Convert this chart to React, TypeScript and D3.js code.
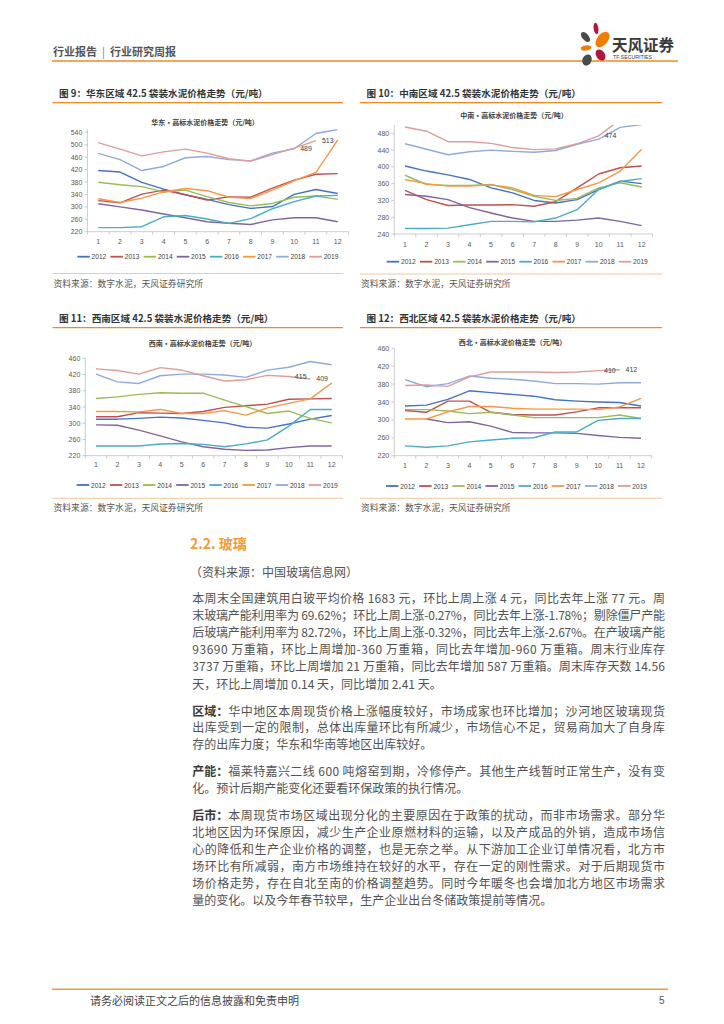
import React from 'react';
import * as d3 from 'd3';

const MONTHS = ['1', '2', '3', '4', '5', '6', '7', '8', '9', '10', '11', '12'];
const YEARS = ['2012', '2013', '2014', '2015', '2016', '2017', '2018', '2019'];

const EAST_TICKS = [220, 260, 300, 340, 380, 420, 460, 500, 540];
const CENTRAL_TICKS = [240, 280, 320, 360, 400, 440, 480];
const SOUTHWEST_TICKS = [220, 260, 300, 340, 380, 420, 460];
const NORTHWEST_TICKS = [220, 260, 300, 340, 380, 420, 460];

const EAST_PRICES = [
  [417, 412, 379, 357, 339, 324, 307, 295, 301, 340, 356, 343],
  [320, 313, 341, 354, 339, 322, 332, 331, 360, 386, 405, 407],
  [379, 371, 365, 348, 354, 333, 314, 303, 311, 331, 335, 324],
  [310, 300, 290, 277, 265, 252, 247, 243, 258, 265, 265, 252],
  [233, 233, 236, 268, 272, 261, 247, 262, 294, 317, 335, 337],
  [326, 314, 328, 348, 359, 352, 331, 327, 354, 384, 411, 515],
  [472, 452, 417, 430, 458, 462, 452, 448, 473, 487, 536, 549],
  [507, 486, 464, 477, 486, 473, 455, 447, 468, 489, 513, null],
];

const CENTRAL_PRICES = [
  [402, 390, 381, 370, 350, 338, 320, 314, 322, 346, 366, 360],
  [344, 322, 308, 309, 309, 310, 306, 317, 350, 383, 398, 402],
  [380, 358, 356, 356, 358, 346, 330, 320, 325, 350, 362, 352],
  [334, 330, 322, 303, 290, 278, 270, 270, 273, 278, 270, 260],
  [253, 253, 254, 262, 270, 270, 269, 278, 298, 346, 365, 372],
  [370, 360, 354, 354, 357, 350, 332, 329, 346, 362, 390, 442],
  [455, 442, 429, 436, 440, 437, 435, 439, 454, 466, 494, 501],
  [495, 485, 460, 460, 456, 446, 441, 443, 455, 474, 513, null],
];

const SOUTHWEST_PRICES = [
  [310, 310, 312, 315, 313, 307, 301, 290, 288, 298, 310, 319],
  [316, 316, 326, 325, 324, 329, 339, 343, 347, 359, 360, 361],
  [361, 365, 371, 375, 374, 374, 357, 341, 324, 330, 312, 301],
  [296, 295, 283, 269, 254, 242, 236, 233, 234, 240, 244, 244],
  [244, 244, 244, 249, 250, 248, 242, 249, 259, 293, 334, 334],
  [329, 329, 328, 334, 324, 324, 331, 320, 338, 349, 360, 399],
  [421, 402, 398, 417, 421, 421, 419, 413, 431, 438, 452, 444],
  [434, 430, 421, 437, 431, 417, 404, 407, 418, 415, 409, null],
];

const NORTHWEST_PRICES = [
  [331, 333, 346, 365, 361, 357, 353, 345, 342, 340, 339, 331],
  [321, 317, 342, 342, 317, 312, 311, 311, 318, 327, 327, 327],
  [323, 323, 320, 314, 317, 311, 305, 305, 305, 305, 311, 303],
  [null, 302, 294, 296, 286, 272, 271, 271, 270, 265, 261, 259],
  [242, 239, 242, 251, 255, 259, 260, 273, 273, 299, 303, 303],
  [302, 302, 318, 330, 330, 326, 324, 324, 324, 323, 329, 348],
  [390, 374, 381, 398, 393, 391, 387, 381, 381, 380, 383, 383],
  [377, 378, 375, 396, 407, 407, 407, 406, 407, 410, 412, null],
];

const EAST_LABEL_MONTHS = ['10', '11'];
const CENTRAL_LABEL_MONTHS = ['10'];
const SOUTHWEST_LABEL_MONTHS = ['10', '11'];
const NORTHWEST_LABEL_MONTHS = ['10', '11'];

const SERIES_COLORS = ['#4472C4', '#C0504D', '#9BBB59', '#8064A2', '#4BACC6', '#F79646', '#8FAADC', '#DE9C9A'];

const P1_LINES = [
  '本周末全国建筑用白玻平均价格 1683 元，环比上周上涨 4 元，同比去年上涨 77 元。周',
  '末玻璃产能利用率为 69.62%；环比上周上涨-0.27%，同比去年上涨-1.78%；剔除僵尸产能',
  '后玻璃产能利用率为 82.72%，环比上周上涨-0.32%，同比去年上涨-2.67%。在产玻璃产能',
  '93690 万重箱，环比上周增加-360 万重箱，同比去年增加-960 万重箱。周末行业库存',
  '3737 万重箱，环比上周增加 21 万重箱，同比去年增加 587 万重箱。周末库存天数 14.56',
  '天，环比上周增加 0.14 天，同比增加 2.41 天。',
];
const P2_LINES = [
  '区域：|华中地区本周现货价格上涨幅度较好，市场成家也环比增加；沙河地区玻璃现货',
  '出库受到一定的限制，总体出库量环比有所减少，市场信心不足，贸易商加大了自身库',
  '存的出库力度；华东和华南等地区出库较好。',
];
const P3_LINES = [
  '产能：|福莱特嘉兴二线 600 吨熔窑到期，冷修停产。其他生产线暂时正常生产，没有变',
  '化。预计后期产能变化还要看环保政策的执行情况。',
];
const P4_LINES = [
  '后市：|本周现货市场区域出现分化的主要原因在于政策的扰动，而非市场需求。部分华',
  '北地区因为环保原因，减少生产企业原燃材料的运输，以及产成品的外销，造成市场信',
  '心的降低和生产企业价格的调整，也是无奈之举。从下游加工企业订单情况看，北方市',
  '场环比有所减弱，南方市场维持在较好的水平，存在一定的刚性需求。对于后期现货市',
  '场价格走势，存在自北至南的价格调整趋势。同时今年暖冬也会增加北方地区市场需求',
  '量的变化。以及今年春节较早，生产企业出台冬储政策提前等情况。',
];

const CJK = '"Noto Sans CJK SC", "Noto Sans", sans-serif';
const LATIN = '"Liberation Sans", Arial, "Noto Sans CJK SC", sans-serif';
const SOURCE_TEXT = '资料来源：数字水泥，天风证券研究所';

const CHARTS = [
  {
    id: 'c1', figTitle: '图 9：华东区域 42.5 袋装水泥价格走势（元/吨）', chartTitle: '华东·高标水泥价格走势（元/吨）',
    series: EAST_PRICES, ticks: EAST_TICKS, max: 550, labelMonths: EAST_LABEL_MONTHS,
    fx: 52.5, fw: 290.5, titleY: 92.7, ruleY: 102.7, itx: 205, ity: 121.7,
    yb: 231.7, yt: 132.3, x1: 98.3, x12: 337.7, xly: 241, lgx: 77.3, lgy: 256.7, sry: 273.5, sy: 283.5,
  },
  {
    id: 'c2', figTitle: '图 10：中南区域 42.5 袋装水泥价格走势（元/吨）', chartTitle: '中南·高标水泥价格走势（元/吨）',
    series: CENTRAL_PRICES, ticks: CENTRAL_TICKS, max: 500, labelMonths: CENTRAL_LABEL_MONTHS,
    fx: 360, fw: 302, titleY: 92.7, ruleY: 102.7, itx: 514, ity: 115.3,
    yb: 234, yt: 133.3, x1: 405, x12: 641.7, xly: 244, lgx: 386.7, lgy: 261.7, sry: 274, sy: 283.5,
  },
  {
    id: 'c3', figTitle: '图 11：西南区域 42.5 袋装水泥价格走势（元/吨）', chartTitle: '西南·高标水泥价格走势（元/吨）',
    series: SOUTHWEST_PRICES, ticks: SOUTHWEST_TICKS, max: 460, labelMonths: SOUTHWEST_LABEL_MONTHS,
    fx: 52.5, fw: 290.5, titleY: 317.7, ruleY: 327.7, itx: 202.5, ity: 343.3,
    yb: 455.7, yt: 358.3, x1: 96, x12: 331.7, xly: 464.3, lgx: 76.7, lgy: 485, sry: 498.3, sy: 507.5,
  },
  {
    id: 'c4', figTitle: '图 12：西北区域 42.5 袋装水泥价格走势（元/吨）', chartTitle: '西北·高标水泥价格走势（元/吨）',
    series: NORTHWEST_PRICES, ticks: NORTHWEST_TICKS, max: 460, labelMonths: NORTHWEST_LABEL_MONTHS,
    fx: 360, fw: 302, titleY: 317.7, ruleY: 327.7, itx: 512.5, ity: 341.7,
    yb: 455.7, yt: 348.3, x1: 405, x12: 641, xly: 465.7, lgx: 386, lgy: 486, sry: 498.3, sy: 507.5,
  },
];

function LineChart({ c }: { c: any }) {
  const t0 = c.ticks[0];
  const tN = c.ticks[c.ticks.length - 1];
  const y = d3.scaleLinear().domain([t0, tN]).range([c.yb, c.yt]);
  const x = d3.scalePoint<string>().domain(MONTHS).range([c.x1, c.x12]);
  const step = x.step();
  const axX = c.x1 - step / 2;
  const axEnd = c.x12 + step / 2;
  const plotTop = y(c.max);
  const line = d3
    .line<number | null>()
    .defined((d) => d != null)
    .x((_, i) => x(MONTHS[i]) as number)
    .y((d) => y(d as number));
  const last = c.series[c.series.length - 1];
  return (
    <g>
      <defs>
        <clipPath id={`clip-${c.id}`}>
          <rect x={axX} y={plotTop} width={axEnd - axX + 2} height={c.yb - plotTop} />
        </clipPath>
      </defs>
      <text x={c.fx + 6.5} y={c.titleY} fontFamily={CJK} fontSize={9.6} fontWeight="bold" fill="#333" dominantBaseline="central">
        {c.figTitle}
      </text>
      <line x1={c.fx} x2={c.fx + c.fw} y1={c.ruleY} y2={c.ruleY} stroke="#F08A24" strokeWidth={1.3} />
      <text x={c.itx} y={c.ity} fontFamily={CJK} fontSize={7} fontWeight="bold" fill="#404040" textAnchor="middle" dominantBaseline="central">
        {c.chartTitle}
      </text>
      <line x1={axX} x2={axX} y1={plotTop} y2={c.yb} stroke="#BFBFBF" strokeWidth={0.8} />
      {c.ticks.map((t: number) => (
        <g key={t}>
          <line x1={axX - 3} x2={axX} y1={y(t)} y2={y(t)} stroke="#BFBFBF" strokeWidth={0.8} />
          <text x={axX - 5} y={y(t)} fontFamily={LATIN} fontSize={7} fill="#595959" textAnchor="end" dominantBaseline="central">
            {t}
          </text>
        </g>
      ))}
      <line x1={axX} x2={axEnd} y1={c.yb} y2={c.yb} stroke="#BFBFBF" strokeWidth={0.8} />
      {d3.range(MONTHS.length + 1).map((i) => (
        <line key={i} x1={axX + i * step} x2={axX + i * step} y1={c.yb} y2={c.yb + 3} stroke="#BFBFBF" strokeWidth={0.8} />
      ))}
      {MONTHS.map((m) => (
        <text key={m} x={x(m)} y={c.xly} fontFamily={LATIN} fontSize={7} fill="#595959" textAnchor="middle" dominantBaseline="central">
          {m}
        </text>
      ))}
      <g clipPath={`url(#clip-${c.id})`}>
        {c.series.map((s: (number | null)[], i: number) => (
          <path key={i} d={line(s) || ''} fill="none" stroke={SERIES_COLORS[i]} strokeWidth={1.4} strokeLinejoin="round" />
        ))}
      </g>
      {c.labelMonths.map((m: string) => {
        const v = last[MONTHS.indexOf(m)];
        return (
          <text key={m} x={(x(m) as number) + 6} y={y(v)} fontFamily={LATIN} fontSize={7} fill="#404040" dominantBaseline="central">
            {v}
          </text>
        );
      })}
      {YEARS.map((yr, i) => {
        const lx = c.lgx + i * 33.15;
        return (
          <g key={yr}>
            <line x1={lx} x2={lx + 12.5} y1={c.lgy} y2={c.lgy} stroke={SERIES_COLORS[i]} strokeWidth={1.8} />
            <text x={lx + 14.3} y={c.lgy} fontFamily={LATIN} fontSize={6.6} fill="#404040" dominantBaseline="central">
              {yr}
            </text>
          </g>
        );
      })}
      <line x1={c.fx} x2={c.fx + c.fw} y1={c.sry} y2={c.sry} stroke="#F6C08E" strokeWidth={0.9} />
      <text x={c.fx + 1} y={c.sy} fontFamily={CJK} fontSize={8.8} fill="#555" dominantBaseline="central">
        {SOURCE_TEXT}
      </text>
    </g>
  );
}

const TEXT_X = 192.3;
const TEXT_R = 665;
const FS = 12;

function Paragraph({ lines, y0, dy }: { lines: string[]; y0: number; dy: number }) {
  return (
    <g>
      {lines.map((ln, i) => {
        const yy = y0 + i * dy;
        const justify = i < lines.length - 1;
        let label = '';
        let body = ln;
        if (ln.includes('|')) {
          [label, body] = ln.split('|');
        }
        const bx = label ? TEXT_X + label.length * FS : TEXT_X;
        return (
          <g key={i}>
            {label && (
              <text x={TEXT_X} y={yy} fontFamily={CJK} fontSize={FS} fontWeight="bold" fill="#3a3a3a" dominantBaseline="central">
                {label}
              </text>
            )}
            <text
              x={bx}
              y={yy}
              fontFamily={CJK}
              fontSize={FS}
              fill="#525252"
              dominantBaseline="central"
              {...(justify ? { textLength: TEXT_R - bx, lengthAdjust: 'spacing' } : {})}
            >
              {body}
            </text>
          </g>
        );
      })}
    </g>
  );
}

function Logo() {
  return (
    <g>
      <ellipse cx={596} cy={28.5} rx={2.4} ry={5.8} fill="#B1173B" transform="rotate(-8 596 28.5)" />
      <ellipse cx={585.5} cy={37} rx={3.3} ry={6} fill="#4A4A4A" transform="rotate(-40 585.5 37)" />
      <ellipse cx={602.5} cy={39.5} rx={5.4} ry={9} fill="#EE7D00" transform="rotate(38 602.5 39.5)" />
      <ellipse cx={586} cy={48} rx={5.2} ry={2.5} fill="#EE7D00" transform="rotate(-8 586 48)" />
      <ellipse cx={600.5} cy={55} rx={4.3} ry={6} fill="#B1173B" transform="rotate(-35 600.5 55)" />
      <ellipse cx={587} cy={60} rx={4.5} ry={5.8} fill="#4A4A4A" transform="rotate(25 587 60)" />
      <text x={612} y={43.5} fontFamily={CJK} fontSize={15.5} fontWeight="bold" fill="#3a3a3a" dominantBaseline="central">
        天风证券
      </text>
      <text x={613} y={56.5} fontFamily={LATIN} fontSize={5.2} fill="#3a3a3a" dominantBaseline="central">
        TF SECURITIES
      </text>
    </g>
  );
}

export default function App() {
  return (
    <div style={{ position: 'absolute', left: 0, top: 0, width: 724, height: 1024, background: '#fff' }}>
      <svg width={724} height={1024} viewBox="0 0 724 1024" style={{ display: 'block' }}>
        <rect width={724} height={1024} fill="#fff" />
        <text x={53} y={51} fontFamily={CJK} fontSize={11} fill="#555" dominantBaseline="central">
          <tspan fontWeight="bold">行业报告</tspan>
          <tspan dx={5} fill="#777">|</tspan>
          <tspan dx={5} fontWeight="bold">行业研究周报</tspan>
        </text>
        <line x1={52} x2={678} y1={61} y2={61} stroke="#F08A24" strokeWidth={1.4} />
        <Logo />

        {CHARTS.map((c) => (
          <LineChart key={c.id} c={c} />
        ))}

        <text x={190} y={543} fontFamily={CJK} fontSize={14} fontWeight="bold" fill="#F39A3B" dominantBaseline="central">
          2.2. 玻璃
        </text>
        <text x={190} y={571.7} fontFamily={CJK} fontSize={FS} fill="#525252" dominantBaseline="central">
          （资料来源：中国玻璃信息网）
        </text>
        <Paragraph lines={P1_LINES} y0={597.7} dy={17.07} />
        <Paragraph lines={P2_LINES} y0={710} dy={16.7} />
        <Paragraph lines={P3_LINES} y0={770.7} dy={16.7} />
        <Paragraph lines={P4_LINES} y0={814.3} dy={16.94} />

        <line x1={52} x2={668} y1={989.3} y2={989.3} stroke="#F39A3B" strokeWidth={1.4} />
        <text x={90} y={1000} fontFamily={CJK} fontSize={11} fill="#444" dominantBaseline="central">
          请务必阅读正文之后的信息披露和免责申明
        </text>
        <text x={659} y={1000} fontFamily={LATIN} fontSize={10} fill="#555" dominantBaseline="central">
          5
        </text>
      </svg>
    </div>
  );
}
